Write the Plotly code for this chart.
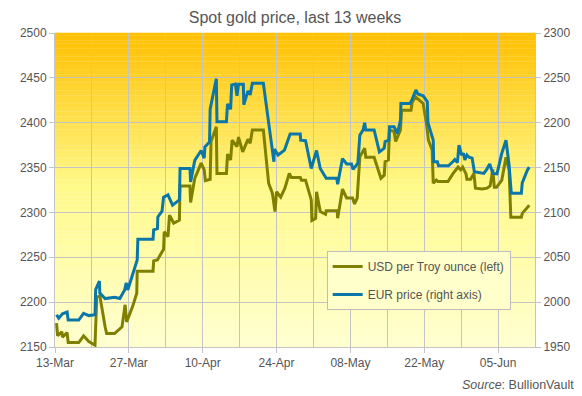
import plotly.graph_objects as go

# ---------------- data ----------------
usd_time = [
    "2024-03-13 07:00", "2024-03-13 12:00", "2024-03-14 07:00", "2024-03-14 10:00", "2024-03-15 07:00",
    "2024-03-15 12:00", "2024-03-17 12:00", "2024-03-18 10:00", "2024-03-19 10:00", "2024-03-20 14:00",
    "2024-03-20 22:00", "2024-03-21 12:00", "2024-03-22 12:00", "2024-03-22 19:00", "2024-03-24 07:00",
    "2024-03-25 07:00", "2024-03-25 17:00", "2024-03-26 07:00", "2024-03-26 14:00", "2024-03-27 17:00",
    "2024-03-28 12:00", "2024-03-28 14:00", "2024-03-31 14:00", "2024-03-31 17:00", "2024-04-01 10:00",
    "2024-04-02 14:00", "2024-04-02 17:00", "2024-04-03 10:00", "2024-04-03 17:00", "2024-04-04 12:00",
    "2024-04-05 14:00", "2024-04-05 17:00", "2024-04-07 14:00", "2024-04-07 17:00", "2024-04-08 12:00",
    "2024-04-09 17:00", "2024-04-10 07:00", "2024-04-10 12:00", "2024-04-11 10:00", "2024-04-11 14:00",
    "2024-04-12 14:00", "2024-04-12 17:00", "2024-04-14 12:00", "2024-04-14 17:00", "2024-04-15 07:00",
    "2024-04-15 14:00", "2024-04-16 12:00", "2024-04-16 19:00", "2024-04-17 14:00", "2024-04-18 14:00",
    "2024-04-19 00:00", "2024-04-19 10:00", "2024-04-21 12:00", "2024-04-22 12:00", "2024-04-23 05:00",
    "2024-04-23 17:00", "2024-04-24 00:00", "2024-04-24 19:00", "2024-04-25 14:00", "2024-04-26 10:00",
    "2024-04-26 19:00", "2024-04-28 12:00", "2024-04-28 17:00", "2024-04-29 12:00", "2024-04-30 14:00",
    "2024-04-30 17:00", "2024-05-01 10:00", "2024-05-01 14:00", "2024-05-02 07:00", "2024-05-03 07:00",
    "2024-05-03 10:00", "2024-05-05 12:00", "2024-05-05 14:00", "2024-05-06 12:00", "2024-05-07 07:00",
    "2024-05-08 10:00", "2024-05-08 19:00", "2024-05-09 07:00", "2024-05-09 19:00", "2024-05-10 17:00",
    "2024-05-10 22:00", "2024-05-12 12:00", "2024-05-13 12:00", "2024-05-13 19:00", "2024-05-14 10:00",
    "2024-05-14 14:00", "2024-05-15 05:00", "2024-05-15 10:00", "2024-05-16 07:00", "2024-05-16 14:00",
    "2024-05-17 12:00", "2024-05-17 17:00", "2024-05-19 12:00", "2024-05-19 17:00", "2024-05-20 07:00",
    "2024-05-21 05:00", "2024-05-21 19:00", "2024-05-22 10:00", "2024-05-22 19:00", "2024-05-23 12:00",
    "2024-05-23 17:00", "2024-05-24 07:00", "2024-05-24 14:00", "2024-05-26 12:00", "2024-05-27 10:00",
    "2024-05-28 10:00", "2024-05-28 22:00", "2024-05-29 07:00", "2024-05-29 22:00", "2024-05-30 02:00",
    "2024-05-30 19:00", "2024-05-31 10:00", "2024-05-31 17:00", "2024-06-02 00:00", "2024-06-02 22:00",
    "2024-06-03 12:00", "2024-06-04 00:00", "2024-06-04 07:00", "2024-06-04 17:00", "2024-06-05 17:00",
    "2024-06-06 12:00", "2024-06-07 02:00", "2024-06-07 10:00", "2024-06-09 10:00", "2024-06-09 14:00",
    "2024-06-10 22:00",
]
usd_price = [
    2176.5, 2162.5, 2167, 2161, 2166,
    2155, 2155, 2162.5, 2156, 2152,
    2205.5, 2207, 2172.5, 2165, 2165,
    2171, 2172.5, 2197, 2178, 2195,
    2210, 2234.5, 2234.5, 2246, 2247,
    2259, 2278.5, 2273, 2297, 2288,
    2291.5, 2329.5, 2329.5, 2311, 2338,
    2355, 2347.5, 2335.5, 2337, 2379,
    2395.5, 2343.5, 2343.5, 2365, 2358.5,
    2380.5, 2373.5, 2384, 2367.5, 2381.5,
    2377, 2392, 2392, 2332.5, 2321.5,
    2301, 2323, 2317, 2327, 2343.5,
    2339, 2339, 2336, 2336, 2314,
    2291, 2293.5, 2323, 2301, 2298,
    2302, 2302, 2293.5, 2326, 2316,
    2316, 2309.5, 2316, 2362, 2371.5,
    2361.5, 2361.5, 2343.5, 2338, 2341.5,
    2356.5, 2358.5, 2392, 2390, 2379,
    2392, 2414, 2414, 2422.5, 2429,
    2424.5, 2421.5, 2399.5, 2380.5, 2369.5,
    2332.5, 2336, 2334.5, 2334.5, 2343,
    2350.5, 2347.5, 2350.5, 2343, 2337,
    2337, 2343.5, 2327, 2326, 2327,
    2329.5, 2348, 2328, 2328, 2336,
    2361.5, 2347.5, 2294.5, 2294.5, 2299,
    2308,
]

eur_time = [
    "2024-03-13 07:00", "2024-03-13 17:00", "2024-03-14 10:00", "2024-03-15 07:00", "2024-03-15 12:00",
    "2024-03-17 12:00", "2024-03-18 10:00", "2024-03-19 10:00", "2024-03-20 14:00", "2024-03-20 17:00",
    "2024-03-21 10:00", "2024-03-21 12:00", "2024-03-22 12:00", "2024-03-24 07:00", "2024-03-25 07:00",
    "2024-03-26 05:00", "2024-03-26 12:00", "2024-03-26 19:00", "2024-03-28 14:00", "2024-03-28 17:00",
    "2024-03-31 14:00", "2024-03-31 17:00", "2024-04-01 10:00", "2024-04-01 12:00", "2024-04-02 07:00",
    "2024-04-02 14:00", "2024-04-03 10:00", "2024-04-04 07:00", "2024-04-05 14:00", "2024-04-05 17:00",
    "2024-04-07 14:00", "2024-04-07 17:00", "2024-04-08 12:00", "2024-04-09 17:00", "2024-04-10 07:00",
    "2024-04-10 10:00", "2024-04-11 07:00", "2024-04-11 10:00", "2024-04-12 14:00", "2024-04-12 17:00",
    "2024-04-14 12:00", "2024-04-14 17:00", "2024-04-15 07:00", "2024-04-15 12:00", "2024-04-16 05:00",
    "2024-04-16 12:00", "2024-04-16 19:00", "2024-04-17 17:00", "2024-04-17 19:00", "2024-04-18 14:00",
    "2024-04-19 00:00", "2024-04-19 10:00", "2024-04-21 12:00", "2024-04-22 12:00", "2024-04-23 12:00",
    "2024-04-23 14:00", "2024-04-24 07:00", "2024-04-25 12:00", "2024-04-26 14:00", "2024-04-28 12:00",
    "2024-04-28 14:00", "2024-04-29 12:00", "2024-04-30 14:00", "2024-05-01 14:00", "2024-05-02 07:00",
    "2024-05-03 10:00", "2024-05-05 10:00", "2024-05-05 14:00", "2024-05-06 12:00", "2024-05-07 07:00",
    "2024-05-08 05:00", "2024-05-08 12:00", "2024-05-09 10:00", "2024-05-09 19:00", "2024-05-10 10:00",
    "2024-05-10 17:00", "2024-05-10 22:00", "2024-05-12 12:00", "2024-05-13 12:00", "2024-05-14 10:00",
    "2024-05-14 14:00", "2024-05-15 07:00", "2024-05-15 10:00", "2024-05-16 07:00", "2024-05-16 22:00",
    "2024-05-17 12:00", "2024-05-17 14:00", "2024-05-19 07:00", "2024-05-19 17:00", "2024-05-20 10:00",
    "2024-05-20 19:00", "2024-05-21 19:00", "2024-05-22 14:00", "2024-05-22 17:00", "2024-05-23 17:00",
    "2024-05-23 19:00", "2024-05-24 12:00", "2024-05-24 17:00", "2024-05-26 14:00", "2024-05-27 10:00",
    "2024-05-27 19:00", "2024-05-28 07:00", "2024-05-28 14:00", "2024-05-29 02:00", "2024-05-29 10:00",
    "2024-05-29 17:00", "2024-05-30 02:00", "2024-05-30 12:00", "2024-05-31 02:00", "2024-05-31 12:00",
    "2024-06-02 07:00", "2024-06-02 19:00", "2024-06-03 10:00", "2024-06-04 00:00", "2024-06-04 19:00",
    "2024-06-05 17:00", "2024-06-06 12:00", "2024-06-07 02:00", "2024-06-07 12:00", "2024-06-09 10:00",
    "2024-06-09 14:00", "2024-06-10 14:00", "2024-06-10 22:00",
]
eur_price = [
    1986, 1982, 1987, 1989, 1980,
    1980, 1987.5, 1985, 1986, 2014,
    2023.5, 2010, 2004, 2005.5, 2004,
    2013.5, 2021.5, 2013.5, 2047, 2070,
    2070, 2080.5, 2082, 2095, 2101.5,
    2117, 2119.5, 2108, 2114, 2149,
    2149, 2134, 2158, 2169, 2160.5,
    2173, 2178.5, 2215, 2249, 2201,
    2201, 2221, 2215, 2242, 2243,
    2230, 2243, 2243, 2220, 2235.5,
    2231, 2244, 2244, 2203, 2156.5,
    2170.5, 2164, 2169.5, 2187.5, 2187.5,
    2180.5, 2180, 2149, 2169, 2149,
    2138, 2138, 2131.5, 2160, 2154,
    2154, 2148, 2155, 2186, 2192,
    2200, 2192, 2192, 2167.5, 2171.5,
    2179, 2180.5, 2195.5, 2195.5, 2188,
    2203, 2221.5, 2221.5, 2226, 2236.5,
    2232, 2230, 2223.5, 2200, 2180.5,
    2156.5, 2156.5, 2152, 2152, 2156.5,
    2159, 2155.5, 2175, 2164, 2166,
    2158.5, 2164, 2161.5, 2160.5, 2145.5,
    2143.5, 2147.5, 2154, 2143.5, 2143,
    2166, 2180.5, 2153, 2121.5, 2121.5,
    2133, 2147.5, 2150.5,
]

tick_dates = ["2024-03-13", "2024-03-27", "2024-04-10", "2024-04-24",
              "2024-05-08", "2024-05-22", "2024-06-05"]
tick_labels = ["13-Mar", "27-Mar", "10-Apr", "24-Apr", "08-May", "22-May", "05-Jun"]
x_range = ["2024-03-13", "2024-06-12"]
usd_range = [2150, 2500]
eur_range = [1950, 2300]

title_text = "Spot gold price, last 13 weeks"
usd_name = "USD per Troy ounce (left)"
eur_name = "EUR price (right axis)"

# ---------------- styling ----------------
OLIVE = "#808000"
BLUE = "#0B77A8"
GRID = "#C4C4C4"
TXT = "#555555"
FONT = "Liberation Sans, Arial, sans-serif"

fig = go.Figure()
fig.add_trace(go.Scatter(x=usd_time, y=usd_price, name=usd_name, mode="lines",
                         line=dict(color=OLIVE, width=3), yaxis="y",
                         legendgroup="a"))
fig.add_trace(go.Scatter(x=eur_time, y=eur_price, name=eur_name, mode="lines",
                         line=dict(color=BLUE, width=3), yaxis="y2",
                         legendgroup="b"))

# vertical gradient background (orange top -> pale yellow bottom)
stops = [(0.0, (255, 192, 0)), (0.5, (255, 250, 140)), (1.0, (255, 255, 208))]


def grad_color(f):
    for (f0, c0), (f1, c1) in zip(stops[:-1], stops[1:]):
        if f0 <= f <= f1:
            t = (f - f0) / (f1 - f0)
            return "rgb(%d,%d,%d)" % tuple(round(a + (b - a) * t) for a, b in zip(c0, c1))
    return "rgb(%d,%d,%d)" % stops[-1][1]


N = 120
shapes = []
for i in range(N):
    top = 1 - i / N
    bot = 1 - (i + 1) / N
    col = grad_color((i + 0.5) / N)
    shapes.append(dict(type="rect", xref="paper", yref="paper", x0=0, x1=1,
                       y0=bot, y1=top + 0.001, fillcolor=col, line=dict(width=0),
                       layer="below"))

# page shows the figure offset by the 8px body margin
fig.update_layout(
    width=574, height=388, autosize=False,
    margin=dict(l=38, r=45, t=25, b=49),
    paper_bgcolor="white", plot_bgcolor="rgba(0,0,0,0)",
    font=dict(family=FONT, size=12, color=TXT),
    title=dict(text=title_text, x=0.5, xref="container", xanchor="center",
               y=0.977, yref="container", yanchor="middle",
               font=dict(size=16, color=TXT, family=FONT)),
    shapes=shapes,
    showlegend=True,
    legend=dict(x=0.566, y=0.306, xanchor="left", yanchor="top",
                bgcolor="#FFFFCC", bordercolor="#BDBDBD", borderwidth=1,
                font=dict(size=12, color=TXT, family=FONT),
                traceorder="grouped", tracegroupgap=9,
                itemwidth=30),
    xaxis=dict(type="date", range=x_range, tickmode="array",
               tickvals=tick_dates, ticktext=tick_labels,
               showgrid=True, gridcolor=GRID, gridwidth=1,
               ticks="outside", ticklen=5, tickcolor=GRID,
               showline=True, linecolor=GRID, linewidth=1,
               minor=dict(dtick=7 * 86400000, tick0="2024-03-13",
                          showgrid=True, gridcolor=GRID, gridwidth=1, ticks=""),
               tickfont=dict(size=12, color=TXT), zeroline=False),
    yaxis=dict(range=usd_range, dtick=50, showgrid=True, gridcolor=GRID, gridwidth=1,
               ticks="outside", ticklen=5, tickcolor=GRID,
               showline=True, linecolor=GRID, linewidth=1,
               tickfont=dict(size=12, color=TXT), zeroline=False),
    yaxis2=dict(range=eur_range, dtick=50, overlaying="y", side="right",
                showgrid=False, ticks="outside", ticklen=5, tickcolor=GRID,
                showline=True, linecolor=GRID, linewidth=1,
                tickfont=dict(size=12, color=TXT), zeroline=False),
    annotations=[dict(text="<i>Source</i>: BullionVault", xref="paper", yref="paper",
                      x=1.086, y=-0.121, xanchor="right", yanchor="middle",
                      showarrow=False, font=dict(size=12.5, color=TXT, family=FONT))],
)

fig.write_html("out.html")
